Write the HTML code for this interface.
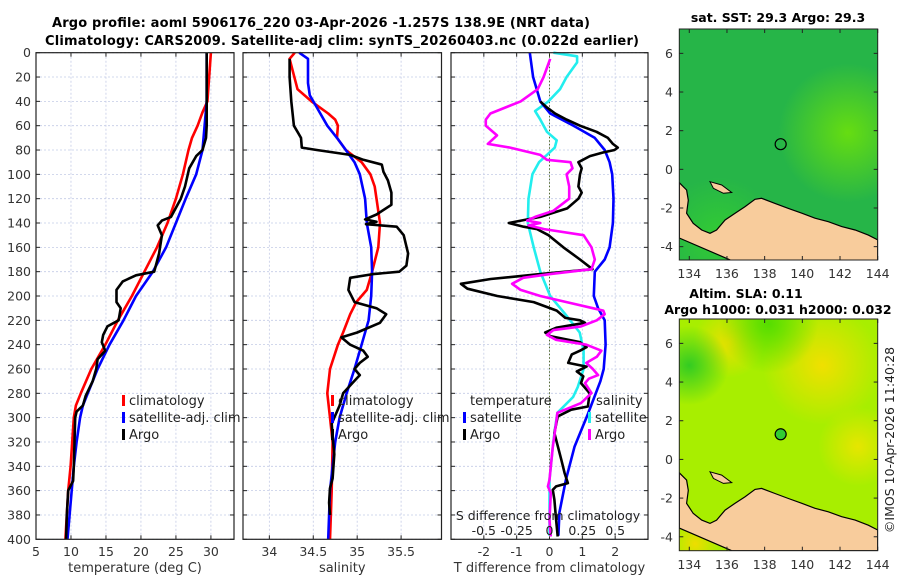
<!DOCTYPE html>
<html><head><meta charset="utf-8"><style>
html,body{margin:0;padding:0;background:#fff;}
svg{display:block;font-family:"DejaVu Sans","Liberation Sans",sans-serif;}
</style></head><body>
<svg id="fig" width="900" height="580" viewBox="0 0 900 580" xmlns="http://www.w3.org/2000/svg">
<text x="321" y="27" text-anchor="middle" font-size="13" font-weight="bold" textLength="538">Argo profile: aoml 5906176_220 03-Apr-2026 -1.257S 138.9E (NRT data)</text>
<text x="342" y="45" text-anchor="middle" font-size="13" font-weight="bold" textLength="594">Climatology: CARS2009. Satellite-adj clim: synTS_20260403.nc (0.022d earlier)</text>
<g id="plots"></g>
<text x="778" y="22" text-anchor="middle" font-size="12.5" font-weight="bold">sat. SST: 29.3 Argo: 29.3</text>
<text x="746" y="298" text-anchor="middle" font-size="12.5" font-weight="bold">Altim. SLA: 0.11</text>
<text x="778" y="314" text-anchor="middle" font-size="12.5" font-weight="bold">Argo h1000: 0.031 h2000: 0.032</text>
<text transform="translate(894,440) rotate(-90)" text-anchor="middle" font-size="12.5" fill="#222">©IMOS 10-Apr-2026 11:40:28</text>
</svg>
<script>
// ---- temperature panel data ----
const tClimDepth=[0,40,49,60,70,80,100,120,140,160,180,200,220,240,260,280,290,300,340,360,400];
const tClimVal=[30,29.5,28.8,28.1,27.3,26.8,26,25,23.8,22.3,20.5,18.7,16.7,14.9,12.9,11.4,10.7,10.4,9.95,9.6,9.2];
const tSatDepth=[0,40,80,100,120,140,160,180,200,220,240,260,280,290,300,320,340,360,400];
const tSatVal=[29.4,29.4,28.8,27.9,26.4,25,23.6,21.7,19.3,17.5,15.5,13.8,12.4,11.7,11.3,10.8,10.4,10.1,9.5];
const tArgoDepth=[0,60,70,80,85,95,100,110,120,135,138,142,150,165,180,183,188,195,205,210,220,225,232,238,245,252,260,270,282,290,295,300,320,340,352,360,380,400];
const tArgoVal=[29.4,29.4,29.3,28.8,27.9,26.9,26.7,26.3,25.7,24.3,23,22.4,23,22.6,21.9,19.3,17.4,16.5,16.5,17.1,16.8,15.2,14.6,14.4,14.9,13.8,13.6,13.1,12.1,11.7,10.8,10.6,10.5,10.4,10.3,9.6,9.4,9.3];
// ---- salinity panel data ----
const sClimDepth=[0,5,30,40,50,55,60,70,80,90,100,110,120,140,160,180,195,205,215,230,240,260,280,300,320,360,400];
const sClimVal=[34.29,34.23,34.32,34.48,34.67,34.75,34.78,34.77,34.87,35.05,35.15,35.2,35.22,35.26,35.24,35.17,35.11,34.99,34.92,34.84,34.78,34.69,34.66,34.69,34.72,34.71,34.69];
const sSatDepth=[0,5,25,35,45,60,70,80,90,100,120,140,160,180,200,220,240,260,280,290,300,320,340,360,400];
const sSatVal=[34.34,34.44,34.44,34.46,34.54,34.66,34.77,34.87,34.97,35.03,35.09,35.11,35.16,35.17,35.16,35.13,35.05,34.97,34.88,34.84,34.8,34.75,34.72,34.69,34.67];
const sArgoDepth=[5,20,40,60,65,70,78,80,84,88,92,98,105,115,125,133,137,139,141,143,150,165,175,180,182,185,195,205,210,215,222,230,234,240,245,250,255,260,265,272,280,290,300,305,315,330,350,358,370,380];
const sArgoVal=[34.23,34.23,34.25,34.28,34.32,34.36,34.37,34.54,34.92,35.07,35.28,35.3,35.35,35.39,35.39,35.22,35.09,35.22,35.1,35.45,35.53,35.58,35.56,35.48,35.18,34.92,34.9,34.97,35.22,35.33,35.26,35,34.82,34.92,35.07,35.12,35.03,34.97,35.03,34.94,34.84,34.8,34.74,34.71,34.72,34.74,34.72,34.69,34.68,34.69];
// ---- difference panel data (T diff on bottom axis, S diff on top axis) ----
const dTSatDepth=[0,20,40,50,60,70,80,90,100,120,140,160,170,180,200,210,220,240,260,270,297,324,351,378,397];
const dTSatVal=[-0.6,-0.5,-0.28,0.02,0.73,1.38,1.68,1.83,1.91,1.95,1.93,1.83,1.68,1.38,1.35,1.48,1.68,1.71,1.65,1.55,1.17,0.76,0.5,0.3,0.27];
const dTArgoDepth=[40,45,50,55,60,65,70,75,78,80,82,85,90,95,100,110,115,120,128,135,140,143,145,150,160,170,178,182,186,190,194,200,205,212,218,220,222,226,230,233,238,242,245,248,255,258,262,266,271.6,279.8,290.8,293.5,299,312.7,334.6,345.6,353.8,356.5,359.3,367.5,384,397.7];
const dTArgoVal=[-0.28,-0.08,0.17,0.52,0.93,1.43,1.78,1.93,2.08,1.98,1.63,1.23,0.88,0.98,0.93,0.88,0.98,0.88,0.54,-0.28,-1.24,-0.79,-0.38,-0.03,0.42,0.93,1.31,-0.28,-1.79,-2.7,-2.5,-1.59,-0.48,0.22,0.48,0.93,1.08,0.22,-0.13,0.02,0.93,1.13,0.93,0.68,0.57,1.13,0.83,1.03,0.96,1.22,1.17,0.66,0.25,0.15,0.36,0.46,0.56,0.2,0.1,0.15,0.2,0.25];
const dSArgoDepth=[5,20,30,40,50,55,60,68,75,78,84,88,90,95,100,110,120,130,135,138,140,142,145,150,160,170,178,182,185,190,195,200,205,210,212,215,220,225,228,232,236,240,245,250,255,260,265,268,271.6,279.8,288,296,304.5,324,351,356.5,362,384,397.7];
const dSArgoVal=[0.005,-0.045,-0.09,-0.22,-0.45,-0.485,-0.485,-0.4,-0.47,-0.3,-0.07,-0.02,0.16,0.175,0.13,0.15,0.15,0.03,-0.11,-0.17,-0.07,-0.16,-0.04,0.26,0.32,0.345,0.32,0.005,-0.2,-0.285,-0.22,-0.07,0.13,0.33,0.41,0.42,0.36,0.24,0.03,-0.02,0.05,0.28,0.395,0.36,0.28,0.33,0.37,0.3,0.27,0.32,0.24,0.06,0.05,0.025,0,-0.012,0.01,0,0.01];
const dSSatDepth=[0,3,8,20,30,40,48,55,65,72,78,84,90,100,120,140,160,180,200,215,230,245,260,275,283,296,310,324,351,397];
const dSSatVal=[0.03,0.21,0.21,0.13,0.08,-0.008,-0.11,-0.07,-0.02,0.055,0.04,-0.02,-0.08,-0.13,-0.16,-0.165,-0.12,-0.07,0.005,0.12,0.23,0.26,0.26,0.215,0.18,0.06,0.04,0.025,0,0];
// ---- tick labels ----
const depthTicks=[0,20,40,60,80,100,120,140,160,180,200,220,240,260,280,300,320,340,360,380,400];
const tTicks=[5,10,15,20,25,30];
const sTicks=[34,34.5,35,35.5];
const dTTicks=[-2,-1,0,1,2];
const dSTicks=[-0.5,-0.25,0,0.25,0.5];
const dSTickLabels=["-0.5","-0.25","0","0.25","0.5"];
const lonTicks=[134,136,138,140,142,144];
const latTicks=[6,4,2,0,-2,-4];
const argoLon=138.85, argoLat=1.3;

const NS="http://www.w3.org/2000/svg";
const root=document.getElementById('plots');
function mk(tag,attrs,parent){const e=document.createElementNS(NS,tag);for(const k in attrs)e.setAttribute(k,attrs[k]);(parent||root).appendChild(e);return e;}
const Y0=52.7,Y1=539.3;
const yScale=d=>Y0+(d/400)*(Y1-Y0);
function xScaleF(x0,x1,a,b){return v=>x0+(v-a)/(b-a)*(x1-x0);}
const panels=[
 {x0:36,x1:234,a:5,b:33.3,ticks:tTicks,name:'temperature-panel',title:'temperature (deg C)'},
 {x0:243,x1:441.5,a:33.7,b:35.96,ticks:sTicks,name:'salinity-panel',title:'salinity'},
 {x0:451,x1:648,a:-3,b:3,ticks:dTTicks,name:'difference-panel',title:'T difference from climatology'}
];
panels.forEach((p,i)=>{
  p.xs=xScaleF(p.x0,p.x1,p.a,p.b);
  const g=mk('g',{});
  
  
  p.g=g;
  mk('rect',{x:p.x0,y:Y0,width:p.x1-p.x0,height:Y1-Y0,fill:'#fff'},g);
  depthTicks.forEach(d=>{
    const y=yScale(d);
    mk('line',{x1:p.x0,x2:p.x1,y1:y,y2:y,stroke:'#c4cbe6','stroke-width':0.8,'stroke-dasharray':'2,2'},g);
    mk('line',{x1:p.x0,x2:p.x0+4,y1:y,y2:y,stroke:'#222','stroke-width':1},g);
    mk('line',{x1:p.x1-4,x2:p.x1,y1:y,y2:y,stroke:'#222','stroke-width':1},g);
  });
  p.ticks.forEach(v=>{
    const x=p.xs(v);
    mk('line',{x1:x,x2:x,y1:Y0,y2:Y1,stroke:'#c4cbe6','stroke-width':0.8,'stroke-dasharray':'2,2'},g);
    mk('line',{x1:x,x2:x,y1:Y1,y2:Y1-4,stroke:'#222'},g);
    mk('line',{x1:x,x2:x,y1:Y0,y2:Y0+4,stroke:'#222'},g);
    const t=mk('text',{x:x,y:556,'text-anchor':'middle','font-size':12.5,fill:'#333'},g);
    t.textContent=String(v);
    
    
  });
  const tt=mk('text',{x:(p.x0+p.x1)/2,y:572,'text-anchor':'middle','font-size':13,fill:'#333'},g);
  tt.textContent=p.title;
  
  
});
depthTicks.forEach(d=>{
  const t=mk('text',{x:31,y:yScale(d)+4.5,'text-anchor':'end','font-size':12.5,fill:'#333'});
  t.textContent=String(d);
  
  
});
const zx=panels[2].xs(0);
mk('line',{x1:zx,x2:zx,y1:Y0,y2:Y1,stroke:'#556b2f','stroke-width':1,'stroke-dasharray':'1.5,2'},panels[2].g);
function series(p,depths,vals,color,name,scale){
  const s=scale||1;
  const pts=depths.map((d,i)=>p.xs(vals[i]*s).toFixed(1)+','+yScale(d).toFixed(1)).join(' ');
  const e=mk('polyline',{points:pts,fill:'none',stroke:color,'stroke-width':2.6,'stroke-linejoin':'round'},p.g);
  
  
}
series(panels[0],tClimDepth,tClimVal,'#ff0000','temp-climatology-line');
series(panels[0],tSatDepth,tSatVal,'#0000ff','temp-satellite-line');
series(panels[0],tArgoDepth,tArgoVal,'#000','temp-argo-line');
series(panels[1],sClimDepth,sClimVal,'#ff0000','sal-climatology-line');
series(panels[1],sSatDepth,sSatVal,'#0000ff','sal-satellite-line');
series(panels[1],sArgoDepth,sArgoVal,'#000','sal-argo-line');
series(panels[2],dSSatDepth,dSSatVal,'#22eeee','sdiff-satellite-line',4);
series(panels[2],dTSatDepth,dTSatVal,'#0000ff','tdiff-satellite-line');
series(panels[2],dTArgoDepth,dTArgoVal,'#000','tdiff-argo-line');
series(panels[2],dSArgoDepth,dSArgoVal,'#ff00ff','sdiff-argo-line',4);
panels.forEach(p=>{mk('rect',{x:p.x0,y:Y0,width:p.x1-p.x0,height:Y1-Y0,fill:'none',stroke:'#222','stroke-width':1.2},p.g);});
const sa=mk('text',{x:548,y:520,'text-anchor':'middle','font-size':12.5,fill:'#222'},panels[2].g);
sa.textContent='S difference from climatology';


dSTicks.forEach((v,i)=>{
  const t=mk('text',{x:panels[2].xs(v*4),y:535,'text-anchor':'middle','font-size':12.5,fill:'#222'},panels[2].g);
  t.textContent=dSTickLabels[i];
  
  
});
function legend(x,y,color,label,name){
  const g=mk('g',{});
  
  
  if(color) mk('rect',{x:x,y:y-10,width:3,height:11,fill:color},g);
  const t=mk('text',{x:x+(color?7:0),y:y,'font-size':13,fill:'#222'},g);
  t.textContent=label;
}
legend(122,405,'#ff0000','climatology','legend-temp-climatology');
legend(122,422,'#0000ff','satellite-adj. clim','legend-temp-satellite');
legend(122,439,'#000','Argo','legend-temp-argo');
legend(331,405,'#ff0000','climatology','legend-sal-climatology');
legend(331,422,'#0000ff','satellite-adj. clim','legend-sal-satellite');
legend(331,439,'#000','Argo','legend-sal-argo');
legend(470,405,null,'temperature','legend-temperature-header');
legend(463,422,'#0000ff','satellite','legend-tdiff-satellite');
legend(463,439,'#000','Argo','legend-tdiff-argo');
legend(596,405,null,'salinity','legend-salinity-header');
legend(588,422,'#22eeee','satellite','legend-sdiff-satellite');
legend(588,439,'#ff00ff','Argo','legend-sdiff-argo');

// ---- maps ----
const coast=[[133.47,-0.69],[133.86,-1.07],[133.95,-1.6],[133.86,-2.27],[134.21,-2.79],[134.66,-3.14],[135.1,-3.31],[135.45,-3.14],[135.9,-2.62],[136.43,-2.27],[136.96,-1.93],[137.49,-1.55],[137.84,-1.5],[138.55,-1.76],[139.26,-2.02],[139.97,-2.27],[140.67,-2.53],[141.38,-2.71],[142.09,-2.96],[142.8,-3.14],[143.5,-3.4],[144.0,-3.65],[144.0,-4.72],[136.25,-4.72],[133.47,-3.55]];
const island=[[135.1,-0.64],[135.72,-0.81],[136.25,-1.2],[135.81,-1.24],[135.28,-0.98]];
const maps=[
 {y0:29,y1:260,name:'sst-map',bg:'#26b548',grads:[[0.85,0.45,0.35,'#66dd11'],[0.2,0.9,0.3,'#33cc33']],ly:274},
 {y0:319,y1:550.7,name:'sla-map',bg:'#a8ee00',grads:[[0.72,0.2,0.3,'#f0e000'],[0.25,0.1,0.18,'#e8e000'],[0.05,0.2,0.2,'#33cc22'],[0.45,0.02,0.25,'#55dd00'],[0.9,0.55,0.2,'#e6e600'],[0.08,0.97,0.12,'#eedd00']],ly:565}
];
const MX0=679.3,MX1=877.7,LON0=133.47,LON1=144.0;
const defs=mk('defs',{},document.getElementById('fig'));
maps.forEach((m,mi)=>{
  const lx=v=>MX0+(v-LON0)/(LON1-LON0)*(MX1-MX0);
  const ly=v=>m.y0+(7.26-v)/(7.26-(mi?-4.72:-4.69))*(m.y1-m.y0);
  const cp=mk('clipPath',{id:'clip'+mi},defs);
  mk('rect',{x:MX0,y:m.y0,width:MX1-MX0,height:m.y1-m.y0},cp);
  const g=mk('g',{});
  
  
  const inner=mk('g',{'clip-path':'url(#clip'+mi+')'},g);
  mk('rect',{x:MX0,y:m.y0,width:MX1-MX0,height:m.y1-m.y0,fill:m.bg},inner);
  m.grads.forEach((gr,k)=>{
    const id='rg'+mi+'_'+k;
    const rg=mk('radialGradient',{id:id},defs);
    mk('stop',{offset:'0','stop-color':gr[3],'stop-opacity':1},rg);
    mk('stop',{offset:'1','stop-color':gr[3],'stop-opacity':0},rg);
    const w=MX1-MX0,h=m.y1-m.y0;
    mk('circle',{cx:MX0+gr[0]*w,cy:m.y0+gr[1]*h,r:gr[2]*w,fill:'url(#'+id+')'},inner);
  });
  const land=mk('polygon',{points:coast.map(p=>lx(p[0]).toFixed(1)+','+ly(p[1]).toFixed(1)).join(' '),fill:'#f8cc9c',stroke:'#000','stroke-width':1.2},inner);
  
  
  mk('polygon',{points:island.map(p=>lx(p[0]).toFixed(1)+','+ly(p[1]).toFixed(1)).join(' '),fill:'#f8cc9c',stroke:'#000','stroke-width':1},inner);
  const c=mk('circle',{cx:lx(argoLon),cy:ly(argoLat),r:5.5,fill:mi?'#33cc33':'none',stroke:'#000','stroke-width':1.2},g);
  
  
  mk('rect',{x:MX0,y:m.y0,width:MX1-MX0,height:m.y1-m.y0,fill:'none',stroke:'#222','stroke-width':1},g);
  lonTicks.forEach(v=>{
    const x=lx(v);
    mk('line',{x1:x,x2:x,y1:m.y1,y2:m.y1-4,stroke:'#222'},g);
    mk('line',{x1:x,x2:x,y1:m.y0,y2:m.y0+4,stroke:'#222'},g);
    const t=mk('text',{x:x,y:m.ly+4,'text-anchor':'middle','font-size':12.5,fill:'#333'},g);
    t.textContent=String(v);
    
    
  });
  latTicks.forEach(v=>{
    const y=ly(v);
    mk('line',{x1:MX0,x2:MX0+4,y1:y,y2:y,stroke:'#222'},g);
    mk('line',{x1:MX1-4,x2:MX1,y1:y,y2:y,stroke:'#222'},g);
    const t=mk('text',{x:673,y:y+4.5,'text-anchor':'end','font-size':12.5,fill:'#333'},g);
    t.textContent=String(v);
    
    
  });
});
</script>
</body></html>
